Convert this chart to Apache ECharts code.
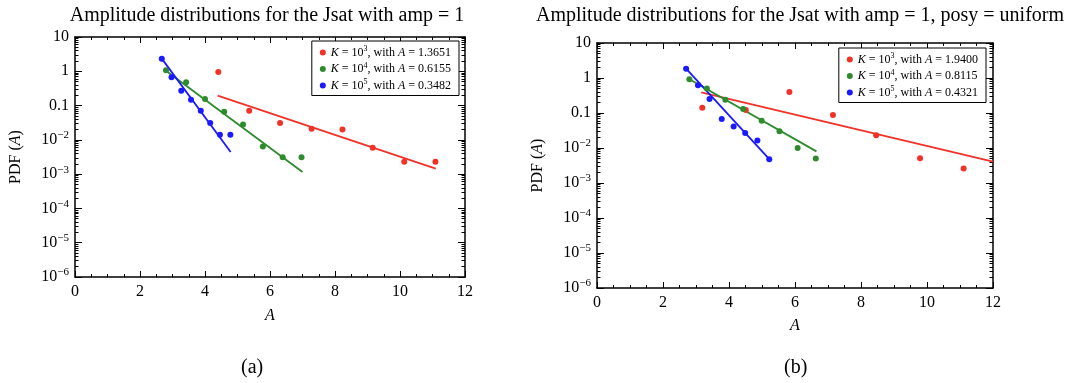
<!DOCTYPE html>
<html><head><meta charset="utf-8">
<script src="https://cdn.jsdelivr.net/npm/echarts@6/dist/echarts.min.js"></script>
<style>html,body{margin:0;padding:0;background:#fff}#c{width:1076px;height:383px}</style>
</head><body><div id="c"></div>
<script>
// ---- data: panel (a) ----
const aRedPts   = [[4.41,0.95],[5.36,0.071],[6.31,0.031],[7.28,0.021],[8.23,0.020],[9.16,0.0059],[10.13,0.0023],[11.09,0.0023]];
const aGreenPts = [[2.80,1.07],[3.42,0.48],[4.00,0.156],[4.59,0.066],[5.17,0.028],[5.78,0.0064],[6.39,0.0031],[6.97,0.0031]];
const aBluePts  = [[2.67,2.34],[2.97,0.67],[3.27,0.27],[3.57,0.147],[3.87,0.071],[4.16,0.031],[4.46,0.014],[4.78,0.014]];
const aRedFit   = [[4.39,0.195],[11.10,0.00144]];
const aGreenFit = [[2.85,0.95],[7.00,0.00115]];
const aBlueFit  = [[2.67,2.34],[4.79,0.0044]];
const aLabels   = ['K = 10^3, with A = 1.3651','K = 10^4, with A = 0.6155','K = 10^5, with A = 0.3482'];
// ---- data: panel (b) ----
const bRedPts   = [[3.19,0.142],[4.51,0.122],[5.83,0.40],[7.15,0.088],[8.46,0.023],[9.79,0.0051],[11.11,0.0026]];
const bGreenPts = [[2.80,0.92],[3.33,0.50],[3.89,0.24],[4.43,0.13],[4.99,0.060],[5.53,0.030],[6.08,0.010],[6.63,0.0050]];
const bBluePts  = [[2.70,1.85],[3.06,0.62],[3.41,0.25],[3.78,0.067],[4.14,0.041],[4.49,0.027],[4.86,0.0165],[5.22,0.0048]];
const bRedFit   = [[3.16,0.39],[12.0,0.0041]];
const bGreenFit = [[2.80,0.92],[6.65,0.0080]];
const bBlueFit  = [[2.70,1.85],[5.22,0.0048]];
const bLabels   = ['K = 10^3, with A = 1.9400','K = 10^4, with A = 0.8115','K = 10^5, with A = 0.4321'];
// ---- axes ----
const xTicks = [0,2,4,6,8,10,12];
const yMajor = [1e-6,1e-5,1e-4,1e-3,1e-2,0.1,1,10];
const titles = ['Amplitude distributions for the Jsat with amp = 1','Amplitude distributions for the Jsat with amp = 1, posy = uniform'];
const captions = ['(a)','(b)'];

const colors = ['#f03228','#2e8b2e','#1a1aff'];
const FONT = 'Liberation Serif';
const yMinor = [];
for (let k=-6;k<=0;k++) for (let m=2;m<=9;m++) yMinor.push(parseFloat((m*Math.pow(10,k)).toPrecision(3)));

const rich = {
  i:{fontStyle:'italic',fontFamily:FONT,fontSize:12,color:'#000'},
  s:{fontSize:8,fontFamily:FONT,color:'#000',padding:[0,0,7,0]},
  n:{fontFamily:FONT,fontSize:12,color:'#000'}
};
const tickRich = {
  b:{fontFamily:FONT,fontSize:16,color:'#000'},
  s:{fontFamily:FONT,fontSize:11,color:'#000',padding:[0,0,9,0]}
};
function legendFmt(name){
  const m = name.match(/K = 10\^(\d), with A = ([\d.]+)/);
  return '{i|K}{n| = 10}{s|'+m[1]+'}{n|, with }{i|A}{n| = '+m[2]+'}';
}
function yFmt(v){
  if (Math.abs(v-10)<1e-9) return '{b|10}';
  if (Math.abs(v-1)<1e-9) return '{b|1}';
  if (Math.abs(v-0.1)<1e-9) return '{b|0.1}';
  const e = Math.round(Math.log10(v));
  return '{b|10}{s|\u2212'+(-e)+'}';
}

const grids = [
  {left:75, right:611, top:37, bottom:106},
  {left:597, right:83, top:43, bottom:95}
];
const xAxes=[], yAxes=[], series=[], legends=[], titleArr=[], graphics=[];
const panels = [
  {pts:[aRedPts,aGreenPts,aBluePts], fits:[aRedFit,aGreenFit,aBlueFit], labels:aLabels},
  {pts:[bRedPts,bGreenPts,bBluePts], fits:[bRedFit,bGreenFit,bBlueFit], labels:bLabels}
];
const axLine = {show:true,lineStyle:{color:'#000',width:1.5}};
panels.forEach((p,g)=>{
  const xi = xAxes.length, yi = yAxes.length;
  xAxes.push({type:'value',gridIndex:g,min:xTicks[0],max:xTicks[xTicks.length-1],interval:2,position:'bottom',
    axisLine:axLine,splitLine:{show:false},
    axisTick:{inside:true,length:6,lineStyle:{color:'#000'}},
    minorTick:{show:true,splitNumber:4,length:3,lineStyle:{color:'#000'}},
    axisLabel:{fontFamily:FONT,fontSize:16,color:'#000',margin:7},
    name:'{i|A}',nameLocation:'middle',nameGap:g===0?31:30,
    nameTextStyle:{rich:{i:{fontFamily:FONT,fontStyle:'italic',fontSize:16,color:'#000'}}}});
  xAxes.push({type:'value',gridIndex:g,min:xTicks[0],max:xTicks[xTicks.length-1],interval:2,position:'top',
    axisLine:axLine,splitLine:{show:false},
    axisTick:{inside:true,length:6,lineStyle:{color:'#000'}},
    minorTick:{show:true,splitNumber:4,length:3,lineStyle:{color:'#000'}},
    axisLabel:{show:false}});
  ['left','right'].forEach(pos=>{
    yAxes.push({type:'log',logBase:10,gridIndex:g,min:1e-6,max:10,position:pos,
      axisLine:axLine,splitLine:{show:false},
      axisTick:{inside:true,length:7,customValues:yMajor,lineStyle:{color:'#000'}},
      axisLabel:pos==='left'?{show:true,customValues:yMajor,formatter:yFmt,rich:tickRich,margin:6}:{show:false},
      name:pos==='left'?'PDF ({i|A})':'',nameLocation:'middle',nameGap:51,nameRotate:90,
      nameTextStyle:{fontFamily:FONT,fontSize:16,color:'#000',rich:{i:{fontFamily:FONT,fontStyle:'italic',fontSize:16,color:'#000'}}}});
    yAxes.push({type:'log',logBase:10,gridIndex:g,min:1e-6,max:10,position:pos,
      axisLine:{show:false},splitLine:{show:false},
      axisTick:{inside:true,length:3.5,customValues:yMinor,lineStyle:{color:'#000'}},
      axisLabel:{show:false}});
  });
  p.labels.forEach((lab,k)=>{
    series.push({type:'scatter',name:lab,xAxisIndex:xi,yAxisIndex:yi,data:p.pts[k],symbolSize:6,
      itemStyle:{color:colors[k],opacity:1},z:3});
    series.push({type:'line',name:lab+'_fit',xAxisIndex:xi,yAxisIndex:yi,data:p.fits[k],showSymbol:false,
      lineStyle:{color:colors[k],width:1.8},z:2,silent:true});
  });
  legends.push({data:p.labels,orient:'vertical',
    right:g===0?617:90, top:g===0?41:48,
    borderColor:'#000',borderWidth:1,padding:[4,8,4,8],itemGap:3,
    itemWidth:6,itemHeight:6,icon:'circle',
    backgroundColor:'#fff',
    formatter:legendFmt,textStyle:{fontFamily:FONT,fontSize:12,color:'#000',rich:rich}});
  titleArr.push({text:titles[g],left:g===0?262:795,top:1,textAlign:'center',
    textStyle:{fontFamily:FONT,fontSize:20,fontWeight:'normal',color:'#000'}});
  graphics.push({type:'text',left:g===0?241:784,top:358,style:{text:captions[g],font:'20px "'+FONT+'"',fill:'#000'}});
});

const chart = echarts.init(document.getElementById('c'),null,{renderer:'canvas'});
chart.setOption({
  animation:false,backgroundColor:'#fff',
  title:titleArr,grid:grids,xAxis:xAxes,yAxis:yAxes,series:series,legend:legends,graphic:graphics
});
</script></body></html>
